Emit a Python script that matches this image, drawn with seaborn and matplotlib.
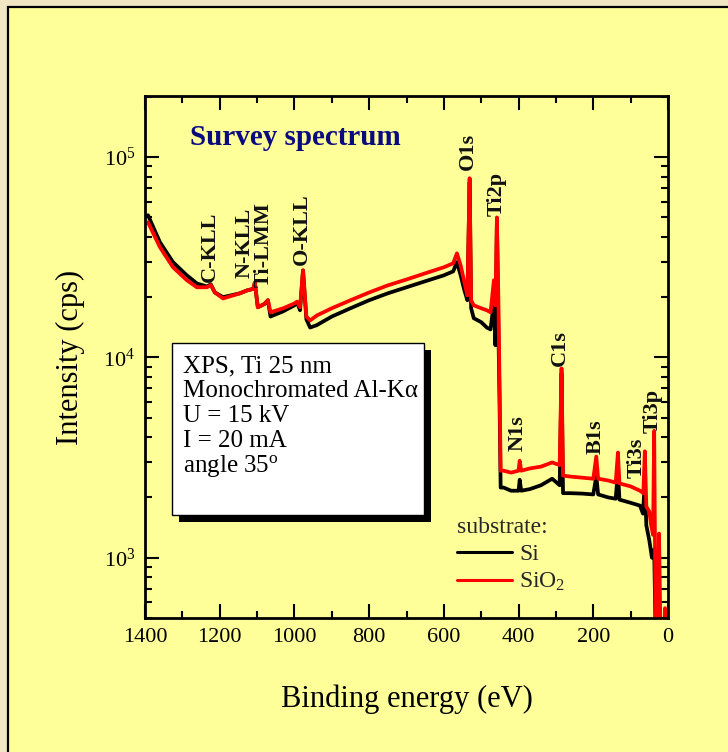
import numpy as np
import pandas as pd
import matplotlib
matplotlib.use("Agg")
import matplotlib.pyplot as plt
import matplotlib.ticker as mticker
from matplotlib.patches import Rectangle
import seaborn as sns

# ---------------- data ----------------
energy_si = [1392, 1360, 1325, 1288, 1261, 1234, 1224, 1213, 1191, 1146, 1127, 1110, 1106, 1098,
             1080, 1071, 1064, 1030, 1000, 993, 985, 977, 968, 958, 940, 900, 850, 800, 750, 700,
             650, 600, 575, 565, 555, 545, 537, 531, 527, 520, 500, 485, 475, 466, 462, 458, 454,
             451, 448, 440, 420, 400, 397, 393, 370, 340, 310, 290, 285, 281, 260, 230, 200, 192,
             187, 160, 140, 134, 130, 100, 75, 67, 62, 58, 50, 43, 37, 33, 20, 5]
intens_si = [5.13e4, 3.76e4, 2.99e4, 2.57e4, 2.34e4, 2.26e4, 2.32e4, 2.11e4, 2.0e4, 2.09e4, 2.16e4,
             2.2e4, 2.36e4, 1.78e4, 1.85e4, 1.93e4, 1.6e4, 1.7e4, 1.82e4, 1.88e4, 1.72e4, 2.72e4,
             1.55e4, 1.41e4, 1.45e4, 1.6e4, 1.76e4, 1.93e4, 2.09e4, 2.24e4, 2.4e4, 2.57e4, 2.69e4,
             2.99e4, 2.57e4, 2.16e4, 1.93e4, 7.5e4, 1.76e4, 1.57e4, 1.5e4, 1.41e4, 1.38e4, 1.9e4,
             1.15e4, 4.73e4, 1.37e4, 6.1e3, 2.24e3, 2.24e3, 2.16e3, 2.16e3, 2.45e3, 2.16e3, 2.2e3,
             2.3e3, 2.48e3, 2.3e3, 8.3e3, 2.1e3, 2.1e3, 2.09e3, 2.07e3, 2.55e3, 2.07e3, 2.0e3,
             1.97e3, 2.7e3, 1.95e3, 1.88e3, 1.82e3, 1.66e3, 2.4e3, 1.45e3, 1.22e3, 1.0e3, 1.1e3,
             4.0e2, 4.0e2, 4.0e2]

energy_sio2 = [1392, 1360, 1325, 1288, 1261, 1234, 1224, 1213, 1191, 1146, 1127, 1110, 1106, 1098,
               1080, 1071, 1064, 1030, 1000, 993, 985, 977, 968, 958, 940, 900, 850, 800, 750, 700,
               650, 600, 575, 565, 555, 545, 537, 531, 527, 520, 500, 485, 475, 466, 462, 458, 454,
               451, 448, 440, 420, 400, 397, 393, 370, 340, 310, 290, 285, 281, 260, 230, 200, 192,
               187, 160, 140, 134, 130, 100, 75, 66, 62, 58, 50, 45, 40, 37, 33, 28, 24, 20, 10, 8, 5]
intens_sio2 = [4.73e4, 3.55e4, 2.82e4, 2.43e4, 2.24e4, 2.24e4, 2.3e4, 2.11e4, 1.97e4, 2.09e4, 2.16e4,
               2.2e4, 2.36e4, 1.78e4, 1.85e4, 1.93e4, 1.68e4, 1.76e4, 1.86e4, 1.9e4, 1.78e4, 2.72e4,
               1.6e4, 1.53e4, 1.62e4, 1.76e4, 1.93e4, 2.11e4, 2.29e4, 2.45e4, 2.63e4, 2.82e4, 2.95e4,
               3.31e4, 2.88e4, 2.37e4, 2.04e4, 7.85e4, 1.93e4, 1.82e4, 1.76e4, 1.72e4, 1.68e4, 2.43e4,
               1.82e4, 5.0e4, 1.93e4, 7.7e3, 2.72e3, 2.72e3, 2.66e3, 2.72e3, 3.05e3, 2.72e3, 2.79e3,
               2.85e3, 2.99e3, 2.9e3, 8.81e3, 2.57e3, 2.54e3, 2.51e3, 2.48e3, 3.2e3, 2.48e3, 2.43e3,
               2.37e3, 3.35e3, 2.35e3, 2.27e3, 2.16e3, 2.1e3, 3.4e3, 1.8e3, 1.7e3, 1.45e3, 1.3e3,
               4.3e3, 4.0e2, 4.0e2, 1.32e3, 4.0e2, 4.0e2, 5.6e2, 4.0e2]

peak_labels = ["C-KLL", "N-KLL", "Ti-LMM", "O-KLL", "O1s", "Ti2p", "N1s", "C1s", "B1s", "Ti3s", "Ti3p"]
peak_label_energy = [1226, 1132, 1081, 980, 535, 458, 402, 289, 193, 83, 40]
peak_label_intens = [2.37e4, 2.48e4, 2.24e4, 2.88e4, 8.6e4, 5.1e4, 3.43e3, 9.1e3, 3.3e3, 2.5e3, 4.2e3]

info_lines = ["XPS, Ti 25 nm", "Monochromated Al-K\u03b1", "U = 15 kV", "I = 20 mA",
              "angle 35$^{\\rm o}$"]
series_names = ["Si", "SiO$_2$"]
x_ticks = [1400, 1200, 1000, 800, 600, 400, 200, 0]

# ---------------- style ----------------
sns.set_theme(style="ticks")
plt.rcParams["font.family"] = ["Liberation Serif", "DejaVu Serif"]
plt.rcParams["mathtext.fontset"] = "custom"
plt.rcParams["mathtext.rm"] = "Liberation Serif"
plt.rcParams["mathtext.it"] = "Liberation Serif:italic"
plt.rcParams["mathtext.bf"] = "Liberation Serif:bold"

panel_yellow = "#ffff99"
fig = plt.figure(figsize=(7.28, 7.52), dpi=100, facecolor="#f1e7c3")
panel = Rectangle((8 / 728, -0.2), 1.5, 1.2 - 7 / 752, transform=fig.transFigure,
                  facecolor=panel_yellow, edgecolor="black", lw=1.6, zorder=-10)
fig.patches.append(panel)

ax = fig.add_axes([145 / 728, 1 - 618 / 752, 523 / 728, 522 / 752])
ax.set_zorder(5)
ax.set_facecolor(panel_yellow)

df_si = pd.DataFrame({"energy": energy_si, "intensity": intens_si})
df_sio2 = pd.DataFrame({"energy": energy_sio2, "intensity": intens_sio2})

sns.lineplot(data=df_si, x="energy", y="intensity", color="black", lw=2.7, ax=ax,
             label=series_names[0], estimator=None)
sns.lineplot(data=df_sio2, x="energy", y="intensity", color="#ff0000", lw=2.7, ax=ax,
             label=series_names[1], estimator=None)

ax.set_yscale("log")
ax.set_xlim(1400, 0)
ax.set_ylim(500, 2.02e5)
ax.set_xticks(x_ticks)
ax.xaxis.set_minor_locator(mticker.MultipleLocator(100))
ax.yaxis.set_major_locator(mticker.LogLocator(base=10, numticks=10))
ax.yaxis.set_minor_locator(mticker.LogLocator(base=10, subs=np.arange(2, 10), numticks=20))
ax.yaxis.set_minor_formatter(mticker.NullFormatter())
ax.yaxis.set_major_formatter(mticker.FuncFormatter(lambda v, p: "10$^{%d}$" % round(np.log10(v))))
ax.tick_params(which="both", direction="in", top=True, right=True, colors="black",
               labelsize=16, width=1.5)
ax.tick_params(which="major", length=10, pad=7)
ax.tick_params(which="minor", length=5)
for s in ax.spines.values():
    s.set_linewidth(2)
    s.set_color("black")

ax.set_xlabel("Binding energy (eV)", fontsize=22, color="black")
ax.set_ylabel("Intensity (cps)", fontsize=22, color="black")
ax.xaxis.set_label_coords(0.5, -0.128)
ax.yaxis.set_label_coords(-0.115, 0.5)

ax.text(0.086, 0.921, "Survey spectrum", transform=ax.transAxes, fontsize=21,
        fontweight="bold", color="#0b0b80", va="center", ha="left")

for lab, e, v in zip(peak_labels, peak_label_energy, peak_label_intens):
    ax.text(e, v, lab, rotation=90, ha="center", va="bottom", fontsize=16,
            fontweight="bold", color="#111111")

# info box with drop shadow
ax.add_patch(Rectangle((0.065, 0.1839), 0.4818, 0.3295, transform=ax.transAxes,
                       facecolor="black", edgecolor="none", zorder=5))
ax.add_patch(Rectangle((0.0516, 0.1973), 0.4819, 0.3295, transform=ax.transAxes,
                       facecolor="white", edgecolor="black", lw=1.0, zorder=6))
line_y = [0.4713, 0.4234, 0.3755, 0.3276, 0.2797]
for txt, yy in zip(info_lines, line_y):
    ax.text(0.0727, yy, txt, transform=ax.transAxes, fontsize=18, va="baseline",
            ha="left", color="black", zorder=7)

leg = ax.legend(title="substrate:", loc="upper left", bbox_to_anchor=(445 / 728, 1 - 505 / 752),
                bbox_transform=fig.transFigure, frameon=False, fontsize=17, title_fontsize=17,
                handlelength=2.35, handletextpad=0.3, borderpad=0, labelspacing=0.25,
                alignment="left")
for h in leg.get_lines():
    h.set_linewidth(2.2)

fig.savefig("out.png", dpi=100, facecolor=fig.get_facecolor())
